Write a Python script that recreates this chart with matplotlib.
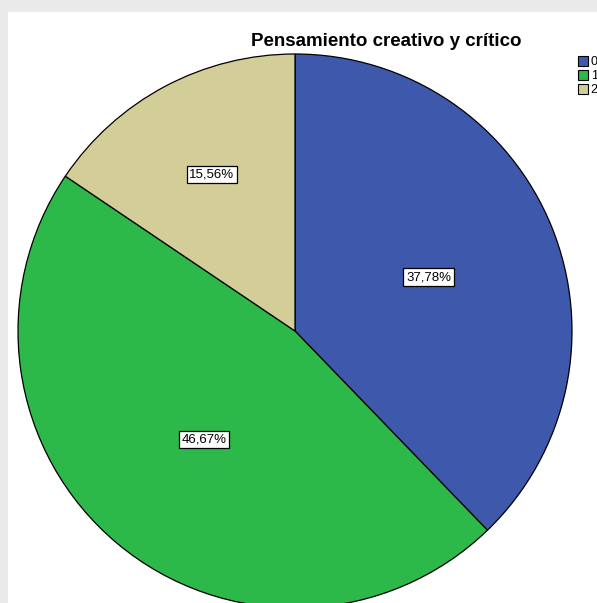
import numpy as np
import matplotlib
matplotlib.use("Agg")
import matplotlib.pyplot as plt
from matplotlib.patches import Rectangle, Patch

plt.rcParams["font.family"] = ["Liberation Sans", "DejaVu Sans"]

categories = ["0", "1", "2"]
values = [37.78, 46.67, 15.56]
colors = ["#3E58AC", "#2DB84A", "#D3CE97"]
label_radius = [0.52, 0.51, 0.64]
title = "Pensamiento creativo y crítico"

W, H = 597, 603
fig = plt.figure(figsize=(W / 100, H / 100), dpi=100)
fig.patch.set_facecolor("#EAEAEA")

# white chart panel behind everything
fig.patches.append(Rectangle((8 / W, 0), 1, 1 - 12 / H, transform=fig.transFigure,
                             facecolor="white", edgecolor="none", zorder=-5))

# pie centre ~ (295, 331) px, radius ~ 277 px
cx, cy, r = 295, 331, 277
ax = fig.add_axes([(cx - r) / W, (H - cy - r) / H, 2 * r / W, 2 * r / H])
ax.set_zorder(1)

wedges, _ = ax.pie(values, colors=colors, startangle=90, counterclock=False,
                   radius=1, wedgeprops=dict(edgecolor="black", linewidth=0.9))
ax.set_xlim(-1, 1)
ax.set_ylim(-1, 1)
ax.set_aspect("auto")
ax.axis("off")

for w, v, lr in zip(wedges, values, label_radius):
    mid = np.deg2rad((w.theta1 + w.theta2) / 2)
    ax.text(lr * np.cos(mid), lr * np.sin(mid), f"{v:.2f}%".replace(".", ","),
            ha="center", va="center", fontsize=9.5,
            bbox=dict(boxstyle="square,pad=0.2", facecolor="white", edgecolor="black", linewidth=0.9))

fig.text(386 / W, 1 - 41 / H, title, ha="center", va="center", fontsize=13.5, fontweight="bold")

handles = [Patch(facecolor=c, edgecolor="black", linewidth=0.8) for c in colors]
fig.legend(handles, categories, loc="upper left", bbox_to_anchor=(572 / W, 1 - 50 / H),
           frameon=False, fontsize=9, handlelength=0.8, handleheight=0.8,
           handletextpad=0.2, labelspacing=0.15, borderpad=0)

fig.savefig("out.png", dpi=100)
